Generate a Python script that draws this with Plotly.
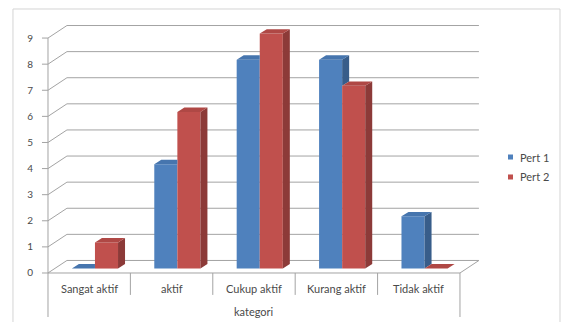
import plotly.graph_objects as go

# ---------------- data ----------------
categories = ["Sangat aktif", "aktif", "Cukup aktif", "Kurang aktif", "Tidak aktif"]
series_names = ["Pert 1", "Pert 2"]
pert1 = [0, 4, 8, 8, 2]
pert2 = [1, 6, 9, 7, 0]
y_ticks = [0, 1, 2, 3, 4, 5, 6, 7, 8, 9]
axis_title = "kategori"

# ---------------- style ----------------
FRONT = ["#4F81BD", "#C0504D"]
SIDE = ["#385D8A", "#8C3A38"]
TOP = ["#4675AE", "#AF4845"]
GRID = "#A3A3A3"
TEXT = "#4A4A4A"
FONT = "Lato"

BASE = 0.17            # bars stand slightly behind the front edge of the floor
BAR_W = 0.28
OFFSETS = [-0.21, 0.07]
DDX, DDY = 0.085, 0.17  # bar depth
WDX, WDY = 0.23, 0.48   # wall depth
X0, X1 = -0.5, len(categories) - 0.5
YMIN, YMAX = -1.686, 9.5

series = [pert1, pert2]
idx = list(range(len(categories)))

fig = go.Figure()

# front faces of bars
for s, (name, vals) in enumerate(zip(series_names, series)):
    fig.add_trace(go.Bar(
        x=idx, y=vals, base=BASE, width=BAR_W, offset=OFFSETS[s],
        marker=dict(color=FRONT[s], line=dict(width=0)),
        name=name, showlegend=False, hoverinfo="skip"))

# side and top faces (3D effect)
for s, vals in enumerate(series):
    sx, sy, tx, ty = [], [], [], []
    for i, v in enumerate(vals):
        bl = i + OFFSETS[s]
        br = bl + BAR_W
        bt = BASE + v
        if s == 0:
            rt = BASE + series[1][i]
            lo = max(BASE, rt)
        else:
            rt = None
            lo = BASE
        if bt > lo:
            sx += [br, br, br + DDX, br + DDX, br, None]
            sy += [lo, bt, bt + DDY, lo + DDY, lo, None]
        if s == 0 and rt > bt:
            tx += [bl, br, br, bl + DDX, bl, None]
            ty += [bt, bt, bt + DDY, bt + DDY, bt, None]
        else:
            tx += [bl, br, br + DDX, bl + DDX, bl, None]
            ty += [bt, bt, bt + DDY, bt + DDY, bt, None]
    fig.add_trace(go.Scatter(x=sx, y=sy, mode="lines", fill="toself",
                             fillcolor=SIDE[s], line=dict(width=0, color=SIDE[s]),
                             hoverinfo="skip", showlegend=False))
    fig.add_trace(go.Scatter(x=tx, y=ty, mode="lines", fill="toself",
                             fillcolor=TOP[s], line=dict(width=0, color=TOP[s]),
                             hoverinfo="skip", showlegend=False))

shapes = []
def line(x0, y0, x1, y1, color=GRID, xref="x", yref="y"):
    shapes.append(dict(type="line", x0=x0, y0=y0, x1=x1, y1=y1, xref=xref, yref=yref,
                       line=dict(color=color, width=1), layer="below"))

# back wall gridlines + diagonal connectors + tick marks
for v in y_ticks:
    line(X0 + WDX, v + WDY, X1 + WDX, v + WDY)
    line(X0, v, X0 + WDX, v + WDY)
    line(X0 - 0.073, v, X0, v)
# floor
line(X0, 0, X1, 0)
line(X1, 0, X1 + WDX, WDY)
# front vertical axis and category box
line(X0, YMIN, X0, y_ticks[-1])
line(X1, YMIN, X1, 0)
for i in range(len(categories) - 1):
    line(i + 0.5, 0, i + 0.5, -0.84)

# outer chart border
shapes.append(dict(type="rect", xref="paper", yref="paper",
                   x0=-0.0614, x1=1.1818, y0=-0.05, y1=1.0548,
                   line=dict(color="#D4D4D4", width=1), fillcolor="rgba(0,0,0,0)",
                   layer="below"))

annotations = []
for i, c in enumerate(categories):
    annotations.append(dict(x=i, y=-0.575, xref="x", yref="y", text=c, showarrow=False,
                            font=dict(size=11, color=TEXT, family=FONT),
                            xanchor="center", yanchor="middle"))
annotations.append(dict(x=(X0 + X1) / 2, y=-1.49, xref="x", yref="y", text=axis_title,
                        showarrow=False, font=dict(size=11, color=TEXT, family=FONT),
                        xanchor="center", yanchor="middle"))

# manual legend
leg_y = [0.5479, 0.4795]
for s, name in enumerate(series_names):
    shapes.append(dict(type="rect", xref="paper", yref="paper",
                       x0=1.0636, x1=1.0750, y0=leg_y[s] - 0.0086, y1=leg_y[s] + 0.0086,
                       line=dict(width=0), fillcolor=FRONT[s]))
    annotations.append(dict(x=1.0864, y=leg_y[s], xref="paper", yref="paper", text=name,
                            showarrow=False, font=dict(size=11, color=TEXT, family=FONT),
                            xanchor="left", yanchor="middle"))

fig.update_layout(
    width=565, height=322,
    margin=dict(l=40, r=85, t=25, b=5),
    paper_bgcolor="white", plot_bgcolor="white",
    barmode="overlay",
    showlegend=False,
    shapes=shapes, annotations=annotations,
    xaxis=dict(range=[X0 - 0.097, X1 + 0.243], visible=False, fixedrange=True),
    yaxis=dict(range=[YMIN, YMAX], tickvals=y_ticks, ticktext=[str(t) for t in y_ticks],
               showgrid=False, zeroline=False, showline=False, ticks="",
               ticklabelstandoff=6,
               tickfont=dict(size=10, color=TEXT, family=FONT), fixedrange=True),
)

fig.write_html("out.html")
